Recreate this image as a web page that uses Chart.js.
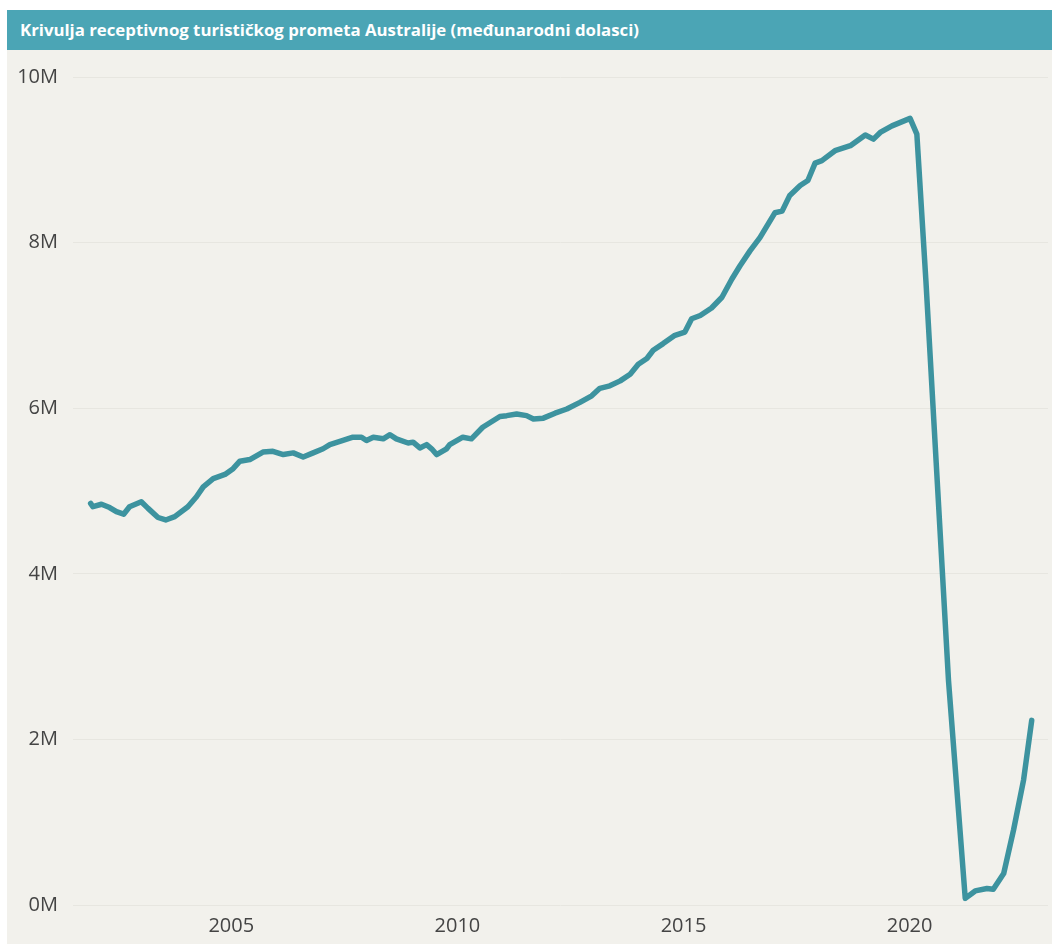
<!DOCTYPE html>
<html>
<head>
<meta charset="utf-8">
<script src="https://cdn.jsdelivr.net/npm/chart.js@4.4.1/dist/chart.umd.min.js"></script>
<style>
  html, body { margin: 0; padding: 0; background: #ffffff; }
  .panel { position: absolute; left: 7px; top: 10px; width: 1045px; height: 934px; background: #f2f1ec; }
  .title-bar {
    height: 40px; background: #4ba5b5; color: #ffffff;
    font-family: "Open Sans", sans-serif; font-weight: 700; font-size: 16.8px;
    line-height: 40px; padding-left: 13px; white-space: nowrap;
  }
  .chart-box { position: absolute; left: 0; top: 40px; width: 1045px; height: 894px; }
</style>
</head>
<body>
<div class="panel">
  <div class="title-bar">Krivulja receptivnog turističkog prometa Australije (međunarodni dolasci)</div>
  <div class="chart-box"><canvas id="chart"></canvas></div>
</div>
<script>
// godine (decimalno) i dolasci (u milijunima), očitano s grafa
const years = [
  2001.89, 2001.94, 2002.13, 2002.31, 2002.46, 2002.62, 2002.75, 2003.01, 2003.16, 2003.38,
  2003.55, 2003.75, 2004.04, 2004.23, 2004.38, 2004.60, 2004.86, 2005.04, 2005.19, 2005.41,
  2005.70, 2005.92, 2006.15, 2006.37, 2006.59, 2006.81, 2007.03, 2007.18, 2007.47, 2007.69,
  2007.88, 2007.99, 2008.14, 2008.36, 2008.51, 2008.65, 2008.91, 2009.02, 2009.17, 2009.32,
  2009.43, 2009.54, 2009.76, 2009.83, 2010.12, 2010.31, 2010.56, 2010.94, 2011.09, 2011.31,
  2011.53, 2011.68, 2011.90, 2012.16, 2012.42, 2012.71, 2012.97, 2013.15, 2013.37, 2013.60,
  2013.82, 2014.00, 2014.19, 2014.33, 2014.55, 2014.81, 2015.03, 2015.18, 2015.37, 2015.62,
  2015.85, 2016.07, 2016.25, 2016.47, 2016.69, 2017.02, 2017.18, 2017.35, 2017.58, 2017.75,
  2017.91, 2018.06, 2018.35, 2018.69, 2019.02, 2019.20, 2019.35, 2019.61, 2020.01, 2020.16,
  2020.36, 2020.86, 2021.23, 2021.45, 2021.71, 2021.85, 2022.08, 2022.30, 2022.52, 2022.70
];
const arrivals = [
  4.85, 4.81, 4.84, 4.80, 4.75, 4.72, 4.81, 4.87, 4.79, 4.68,
  4.65, 4.69, 4.81, 4.93, 5.05, 5.15, 5.20, 5.27, 5.36, 5.38,
  5.47, 5.48, 5.44, 5.46, 5.41, 5.46, 5.51, 5.56, 5.61, 5.65,
  5.65, 5.61, 5.65, 5.63, 5.68, 5.63, 5.58, 5.59, 5.52, 5.56,
  5.51, 5.44, 5.51, 5.56, 5.65, 5.63, 5.77, 5.90, 5.91, 5.93,
  5.91, 5.87, 5.88, 5.94, 5.99, 6.07, 6.15, 6.24, 6.27, 6.33,
  6.41, 6.53, 6.60, 6.70, 6.78, 6.88, 6.92, 7.08, 7.12, 7.21,
  7.34, 7.56, 7.72, 7.90, 8.06, 8.36, 8.38, 8.57, 8.69, 8.75,
  8.96, 8.99, 9.11, 9.17, 9.30, 9.25, 9.33, 9.41, 9.50, 9.31,
  7.54, 2.71, 0.08, 0.17, 0.20, 0.19, 0.38, 0.91, 1.51, 2.23
];
const xTickYears = [2005, 2010, 2015, 2020];
const yTicks = [0, 2, 4, 6, 8, 10];

const points = years.map((y, i) => ({ x: y, y: arrivals[i] * 1e6 }));

const labelFont = { family: '"Open Sans", sans-serif', size: 20 };

new Chart(document.getElementById('chart'), {
  type: 'line',
  data: {
    datasets: [{
      label: 'Međunarodni dolasci',
      data: points,
      borderColor: '#3d939f',
      borderWidth: 5.5,
      borderJoinStyle: 'round',
      borderCapStyle: 'round',
      pointRadius: 0,
      tension: 0,
      fill: false
    }]
  },
  options: {
    responsive: true,
    maintainAspectRatio: false,
    animation: false,
    layout: { padding: { top: 27, right: 4, bottom: 0, left: 0 } },
    plugins: { legend: { display: false }, tooltip: { enabled: false } },
    scales: {
      x: {
        type: 'linear',
        min: 2001.5,
        max: 2023.06,
        grid: { display: false },
        border: { display: false },
        ticks: {
          color: '#444444', font: labelFont, padding: 1, maxRotation: 0,
          callback: (v) => String(v)
        },
        afterBuildTicks: (scale) => { scale.ticks = xTickYears.map(v => ({ value: v })); },
        afterFit: (scale) => { scale.height = 39; }
      },
      y: {
        min: 0,
        max: 1e7,
        grid: { color: '#e7e6e0', lineWidth: 1, drawTicks: false },
        border: { display: false },
        ticks: {
          color: '#444444', font: labelFont, padding: 15,
          callback: (v) => (v / 1e6) + 'M'
        },
        afterBuildTicks: (scale) => { scale.ticks = yTicks.map(v => ({ value: v * 1e6 })); },
        afterFit: (scale) => { scale.width = 66; }
      }
    }
  }
});
</script>
</body>
</html>
